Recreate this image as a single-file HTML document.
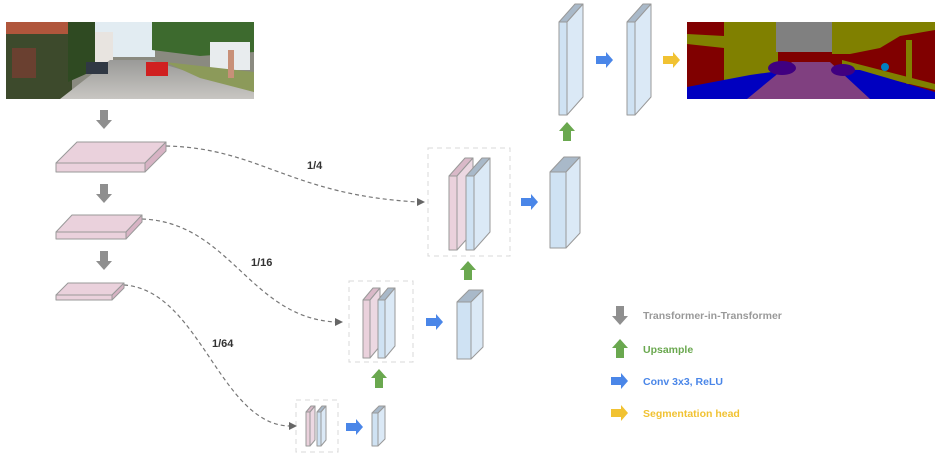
<!DOCTYPE html>
<html><head><meta charset="utf-8"><style>
body{margin:0;background:#fff}
svg{display:block}
text{font-family:"Liberation Sans",sans-serif;font-weight:bold}
</style></head><body>
<svg width="939" height="463" viewBox="0 0 939 463" xmlns="http://www.w3.org/2000/svg">
<defs>
<linearGradient id="road" x1="0" y1="0" x2="0" y2="1"><stop offset="0" stop-color="#9a9a98"/><stop offset="1" stop-color="#c8c6c2"/></linearGradient>
</defs>
<!-- input photo -->
<g>
<rect x="6" y="22" width="248" height="77" fill="#8a8a80"/>
<rect x="95" y="22" width="60" height="35" fill="#e2ecf2"/>
<polygon points="6,22 72,22 72,99 6,99" fill="#3d4a2c"/>
<rect x="6" y="22" width="62" height="12" fill="#b0563c"/>
<rect x="12" y="48" width="24" height="30" fill="#6a4030"/>
<polygon points="68,22 95,22 95,70 68,82" fill="#2f4a22"/>
<rect x="95" y="32" width="18" height="30" fill="#e8e4e0"/>
<polygon points="152,22 254,22 254,52 200,56 152,50" fill="#3d6a2e"/>
<rect x="210" y="42" width="40" height="28" fill="#e8ecee"/>
<polygon points="60,99 110,60 150,60 254,92 254,99" fill="url(#road)"/>
<polygon points="165,62 254,72 254,92 200,78" fill="#8c9a5a"/>
<rect x="146" y="62" width="22" height="14" fill="#d02020"/>
<rect x="86" y="62" width="22" height="12" fill="#303844"/>
<rect x="228" y="50" width="6" height="28" fill="#c89078"/>
</g>
<!-- seg output -->
<g>
<rect x="687" y="22" width="248" height="77" fill="#800000"/>
<polygon points="724,22 778,22 778,72 724,80" fill="#808000"/>
<polygon points="687,34 724,36 724,48 687,44" fill="#808000"/>
<rect x="776" y="22" width="60" height="30" fill="#808080"/>
<polygon points="832,22 935,22 935,30 900,36 880,48 850,54 832,54" fill="#808000"/>
<polygon points="842,60 935,84 935,90 842,68" fill="#808000"/>
<rect x="906" y="40" width="6" height="44" fill="#808000"/>
<polygon points="687,87 750,75 800,68 860,70 935,92 935,99 687,99" fill="#0000c0"/>
<polygon points="747,99 792,62 830,62 870,99" fill="#804080"/>
<ellipse cx="782" cy="68" rx="14" ry="7" fill="#400080"/>
<ellipse cx="843" cy="70" rx="12" ry="6" fill="#400080"/>
<circle cx="885" cy="67" r="4" fill="#0080c0"/>
</g>
<!-- dashed boxes -->
<g fill="none" stroke="#d8d8d8" stroke-dasharray="5,4" stroke-width="1">
<rect x="428" y="148" width="82" height="108"/>
<rect x="349" y="281" width="64" height="81"/>
<rect x="296" y="400" width="42" height="52"/>
</g>
<!-- dashed connectors -->
<g fill="none" stroke="#777" stroke-dasharray="4,3" stroke-width="1.2">
<path d="M166,146 C260,148 290,195 418,202"/>
<path d="M142,219 C230,222 250,318 336,322"/>
<path d="M124,285 C200,290 220,425 290,426"/>
</g>
<g fill="#666">
<polygon points="425,202 417,198 417,206"/>
<polygon points="343,322 335,318 335,326"/>
<polygon points="297,426 289,422 289,430"/>
</g>
<text x="307" y="169" font-size="11" fill="#333" font-weight="normal">1/4</text>
<text x="251" y="266" font-size="11" fill="#333" font-weight="normal">1/16</text>
<text x="212" y="347" font-size="11" fill="#333" font-weight="normal">1/64</text>
<!-- slabs -->
<g stroke="#999" stroke-width="1" stroke-linejoin="round">
<polygon points="56,163 77,142 166,142 145,163" fill="#ead1dc"/>
<polygon points="145,163 166,142 166,151 145,172" fill="#d7b3c4"/>
<rect x="56" y="163" width="89" height="9" fill="#ead1dc"/>
<polygon points="56,232 72,215 142,215 126,232" fill="#ead1dc"/>
<polygon points="126,232 142,215 142,222 126,239" fill="#d7b3c4"/>
<rect x="56" y="232" width="70" height="7" fill="#ead1dc"/>
<polygon points="56,295 68,283 124,283 112,295" fill="#ead1dc"/>
<polygon points="112,295 124,283 124,288 112,300" fill="#d7b3c4"/>
<rect x="56" y="295" width="56" height="5" fill="#ead1dc"/>
</g>
<!-- columns -->
<g stroke="#999" stroke-width="1" stroke-linejoin="round">
<!-- box A -->
<polygon points="449,176 465,158 473,158 457,176" fill="#d9b9c8"/>
<polygon points="457,176 473,158 473,232 457,250" fill="#ecd8e2"/>
<rect x="449" y="176" width="8" height="74" fill="#ead1dc"/>
<polygon points="466,176 482,158 490,158 474,176" fill="#a9b9c9"/>
<polygon points="474,176 490,158 490,232 474,250" fill="#dbe9f6"/>
<rect x="466" y="176" width="8" height="74" fill="#cfe2f3"/>
<!-- box B -->
<polygon points="363,300 373,288 380,288 370,300" fill="#d9b9c8"/>
<polygon points="370,300 380,288 380,346 370,358" fill="#ecd8e2"/>
<rect x="363" y="300" width="7" height="58" fill="#ead1dc"/>
<polygon points="378,300 388,288 395,288 385,300" fill="#a9b9c9"/>
<polygon points="385,300 395,288 395,346 385,358" fill="#dbe9f6"/>
<rect x="378" y="300" width="7" height="58" fill="#cfe2f3"/>
<!-- box C -->
<polygon points="306,412 311,406 315,406 310,412" fill="#d9b9c8"/>
<polygon points="310,412 315,406 315,440 310,446" fill="#ecd8e2"/>
<rect x="306" y="412" width="4" height="34" fill="#ead1dc"/>
<polygon points="317,412 322,406 326,406 321,412" fill="#a9b9c9"/>
<polygon points="321,412 326,406 326,440 321,446" fill="#dbe9f6"/>
<rect x="317" y="412" width="4" height="34" fill="#cfe2f3"/>
<!-- blue columns -->
<polygon points="372,413 379,406 385,406 378,413" fill="#a9b9c9"/>
<polygon points="378,413 385,406 385,439 378,446" fill="#dbe9f6"/>
<rect x="372" y="413" width="6" height="33" fill="#cfe2f3"/>
<polygon points="457,302 469,290 483,290 471,302" fill="#a9b9c9"/>
<polygon points="471,302 483,290 483,347 471,359" fill="#dbe9f6"/>
<rect x="457" y="302" width="14" height="57" fill="#cfe2f3"/>
<polygon points="550,172 564,157 580,157 566,172" fill="#a9b9c9"/>
<polygon points="566,172 580,157 580,233 566,248" fill="#dbe9f6"/>
<rect x="550" y="172" width="16" height="76" fill="#cfe2f3"/>
<polygon points="559,22 575,4 583,4 567,22" fill="#a9b9c9"/>
<polygon points="567,22 583,4 583,97 567,115" fill="#dbe9f6"/>
<rect x="559" y="22" width="8" height="93" fill="#cfe2f3"/>
<polygon points="627,22 643,4 651,4 635,22" fill="#a9b9c9"/>
<polygon points="635,22 651,4 651,97 635,115" fill="#dbe9f6"/>
<rect x="627" y="22" width="8" height="93" fill="#cfe2f3"/>
</g>
<!-- arrows -->
<g fill="#8f8f8f">
<path d="M100,110 h8 v10 h4 l-8,9 l-8,-9 h4 z"/>
<path d="M100,184 h8 v10 h4 l-8,9 l-8,-9 h4 z"/>
<path d="M100,251 h8 v10 h4 l-8,9 l-8,-9 h4 z"/>
<path d="M616,306 h8 v10 h4 l-8,9 l-8,-9 h4 z"/>
</g>
<g fill="#6aa84f">
<path d="M375,388 h8 v-10 h4 l-8,-9 l-8,9 h4 z"/>
<path d="M464,280 h8 v-10 h4 l-8,-9 l-8,9 h4 z"/>
<path d="M563,141 h8 v-10 h4 l-8,-9 l-8,9 h4 z"/>
<path d="M616,358 h8 v-10 h4 l-8,-9 l-8,9 h4 z"/>
</g>
<g fill="#4a86e8">
<path d="M346,423 h10 v-4 l7,8 l-7,8 v-4 h-10 z"/>
<path d="M426,318 h10 v-4 l7,8 l-7,8 v-4 h-10 z"/>
<path d="M521,198 h10 v-4 l7,8 l-7,8 v-4 h-10 z"/>
<path d="M596,56 h10 v-4 l7,8 l-7,8 v-4 h-10 z"/>
<path d="M611,377 h10 v-4 l7,8 l-7,8 v-4 h-10 z"/>
</g>
<g fill="#f1c232">
<path d="M663,56 h10 v-4 l7,8 l-7,8 v-4 h-10 z"/>
<path d="M611,409 h10 v-4 l7,8 l-7,8 v-4 h-10 z"/>
</g>
<text x="643" y="319" font-size="10.5" fill="#999">Transformer-in-Transformer</text>
<text x="643" y="353" font-size="10.5" fill="#6aa84f">Upsample</text>
<text x="643" y="385" font-size="10.5" fill="#4a86e8">Conv 3x3, ReLU</text>
<text x="643" y="417" font-size="10.5" fill="#f1c232">Segmentation head</text>
</svg>
</body></html>
